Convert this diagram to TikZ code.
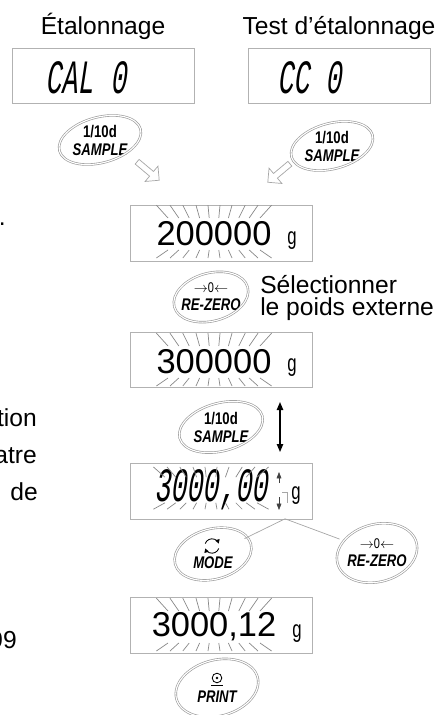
\documentclass[tikz,border=0pt]{standalone}
\usepackage{fontspec}
\setmainfont{Liberation Sans}
\newfontfamily\lcdfont[FakeSlant=0.15,FakeStretch=0.56]{Liberation Mono}
\newfontfamily\keyfont[FakeStretch=0.78]{Liberation Sans}
\newfontfamily\gramfont[FakeStretch=0.7]{Liberation Sans}
\usetikzlibrary{arrows.meta,shapes.geometric,shapes.arrows}

\tikzset{
  title/.style={font=\fontsize{17.5}{16}\selectfont, inner sep=0pt},
  lcd/.style={draw=gray!60, line width=0.6pt, minimum width=4.55cm, minimum height=1.38cm, inner sep=0pt},
  digits/.style={font=\fontsize{24.5}{24.5}\selectfont, inner sep=0pt},
  segtext/.style={font=\lcdfont\fontsize{34}{34}\selectfont, inner sep=0pt},
  gram/.style={font=\gramfont\fontsize{17}{17}\selectfont, inner sep=0pt},
  keylabel/.style={shape=ellipse, font=\keyfont\bfseries\fontsize{12}{12.8}\selectfont, align=center, inner sep=0pt},
  keyring/.style={draw=gray!80, double=white, double distance=0.8pt, line width=0.45pt},
  blink/.style={draw=gray!45!black!60, line width=0.5pt},
  hollow/.style={single arrow, draw=gray!70, fill=white, line width=0.5pt, minimum height=0.72cm, minimum width=0.5cm, single arrow head extend=0.1cm, inner sep=1pt},
}

\newcommand{\blinkrays}[2][1]{%
  \foreach \dx/\ex in {-1.15/-1.44,-0.88/-1.1,-0.62/-0.78,-0.36/-0.45,-0.12/-0.15,0.12/0.15,0.36/0.45,0.62/0.78,0.88/1.1,1.15/1.44}{%
    \draw[blink, shift={(#2)}, yscale=#1] (\dx,0.4) -- (\ex,0.72);
    \draw[blink, shift={(#2)}, yscale=#1] (\dx,-0.4) -- (\ex,-0.6);
  }}

\begin{document}
\begin{tikzpicture}[>={Triangle[length=2mm,width=1.6mm]}]
      \useasboundingbox (0,0) rectangle (11.15,-17.875);

      % two columns at the top
      \node[title, anchor=base] (tCal) at (2.575,-0.875) {Étalonnage};
      \node[title, anchor=base] (tTest) at (8.475,-0.875) {Test d'étalonnage};

      \node[lcd] (dCal) at (2.59,-1.89) {};
      \node[lcd] (dTest) at (8.475,-1.89) {};
      \node[segtext] (sCal) at (2.15,-1.95) {CAL 0};
      \node[segtext] (sTest) at (7.74,-1.95) {CC 0};

      \node[keylabel, minimum width=2.1cm, minimum height=1.16cm] (kSmpA) at (2.5,-3.5) {1/10d\\\itshape SAMPLE};
      \node[keylabel, minimum width=2.1cm, minimum height=1.16cm] (kSmpB) at (8.3,-3.65) {1/10d\\\itshape SAMPLE};
      \draw[keyring, rotate around={15:(kSmpA.center)}] (kSmpA.center) ellipse [x radius=1.05, y radius=0.57];
      \draw[keyring, rotate around={15:(kSmpB.center)}] (kSmpB.center) ellipse [x radius=1.05, y radius=0.57];

      \node[hollow, rotate=-40] (arA) at (3.675,-4.25) {};
      \node[hollow, rotate=-140] (arB) at (7.0,-4.3) {};

      % 200000 g
      \node[lcd] (d200) at (5.5375,-5.8375) {};
      \node[digits] (t200) at (5.35,-5.85) {200000};
      \node[gram] (g200) at (7.3,-6.025) {g};
      \blinkrays{t200}

      \node[keylabel, minimum width=1.9cm, minimum height=1.2cm] (kZeroA) at (5.275,-7.425) {{\mdseries\fontsize{10}{10}\selectfont$\rightarrow$0$\leftarrow$}\\\itshape RE-ZERO};
      \draw[keyring, rotate around={15:(kZeroA.center)}] (kZeroA.center) ellipse [x radius=0.95, y radius=0.6];
      \node[title, anchor=west, align=left] (sel) at (6.5,-7.45) {Sélectionner\\le poids externe};

      % 300000 g
      \node[lcd] (d300) at (5.5375,-9.0) {};
      \node[digits] (t300) at (5.35,-9.05) {300000};
      \node[gram] (g300) at (7.3,-9.2) {g};
      \blinkrays{t300}

      \node[keylabel, minimum width=2.15cm, minimum height=1.25cm] (kSmpC) at (5.525,-10.675) {1/10d\\\itshape SAMPLE};
      \draw[keyring, rotate around={15:(kSmpC.center)}] (kSmpC.center) ellipse [x radius=1.07, y radius=0.6];
      \coordinate (upA) at (7.0,-10.05);
      \coordinate (dnA) at (7.0,-11.3);
      \draw[<->, line width=0.9pt] (upA) -- (dnA);

      % 3000,00 g with the digit arrows
      \node[lcd] (d3000) at (5.5375,-12.2875) {};
      \node[segtext] (s3000) at (5.275,-12.25) {3000,00};
      \node[gram] (g3000) at (7.4,-12.4) {g};
      \blinkrays[0.8]{s3000}
      \coordinate (upB) at (6.975,-12.075);
      \coordinate (upBtip) at (6.975,-11.8);
      \coordinate (dnB) at (6.975,-12.425);
      \coordinate (dnBtip) at (6.975,-12.75);
      \draw[->, >={Triangle[length=1.6mm,width=1.2mm]}, black!75] (upB) -- (upBtip);
      \draw[->, >={Triangle[length=1.6mm,width=1.2mm]}, black!75] (dnB) -- (dnBtip);
      \draw[gray!70, line width=0.5pt] (7.05,-12.3) -- (7.175,-12.3) -- (7.175,-12.575);

      \node[keylabel, minimum width=1.96cm, minimum height=1.26cm] (kMode) at (5.325,-13.85) {\vphantom{X}\\\itshape MODE};
      \draw[keyring, rotate around={15:(kMode.center)}] (kMode.center) ellipse [x radius=0.98, y radius=0.63];
      \coordinate (iMode) at (5.3,-13.65);
      \draw[line width=0.6pt, -{Triangle[length=1mm,width=1.1mm]}] (iMode) ++(160:0.18) arc (160:20:0.18);
      \draw[line width=0.6pt, -{Triangle[length=1mm,width=1.1mm]}] (iMode) ++(-20:0.18) arc (-20:-160:0.18);

      \node[keylabel, minimum width=2.04cm, minimum height=1.5cm] (kZeroB) at (9.425,-13.825) {{\mdseries\fontsize{10}{10}\selectfont$\rightarrow$0$\leftarrow$}\\\itshape RE-ZERO};
      \draw[keyring, rotate around={15:(kZeroB.center)}] (kZeroB.center) ellipse [x radius=1.02, y radius=0.72];

      \coordinate (ptr) at (7.125,-12.97);
      \draw[gray!70, line width=0.5pt] (ptr) -- (kMode);
      \draw[gray!70, line width=0.5pt] (ptr) -- (kZeroB);

      % 3000,12 g
      \node[lcd] (d3012) at (5.5375,-15.6375) {};
      \node[digits] (t3012) at (5.35,-15.675) {3000,12};
      \node[gram] (g3012) at (7.425,-15.85) {g};
      \blinkrays{t3012}

      \node[keylabel, minimum width=2.1cm, minimum height=1.4cm] (kPrint) at (5.425,-17.2) {\vphantom{X}\\\itshape PRINT};
      \draw[keyring, rotate around={15:(kPrint.center)}] (kPrint.center) ellipse [x radius=1.05, y radius=0.7];
      \coordinate (iPrint) at (5.425,-16.95);
      \draw[line width=0.6pt] (iPrint) circle (0.12);
      \fill (iPrint) circle (0.035);
      \draw[line width=0.6pt] (5.275,-17.13) -- (5.575,-17.13);

      % cut text from the left column
      \node[title, anchor=base east] (lDot) at (0.15,-5.625) {.};
      \node[title, anchor=base east] (lTion) at (0.925,-10.65) {tion};
      \node[title, anchor=base east] (lAtre) at (0.925,-11.575) {atre};
      \node[title, anchor=base east] (lDe) at (0.95,-12.5) {de};
      \node[title, anchor=base east] (lNine) at (0.425,-16.2) {99};
    \end{tikzpicture}
\end{document}
